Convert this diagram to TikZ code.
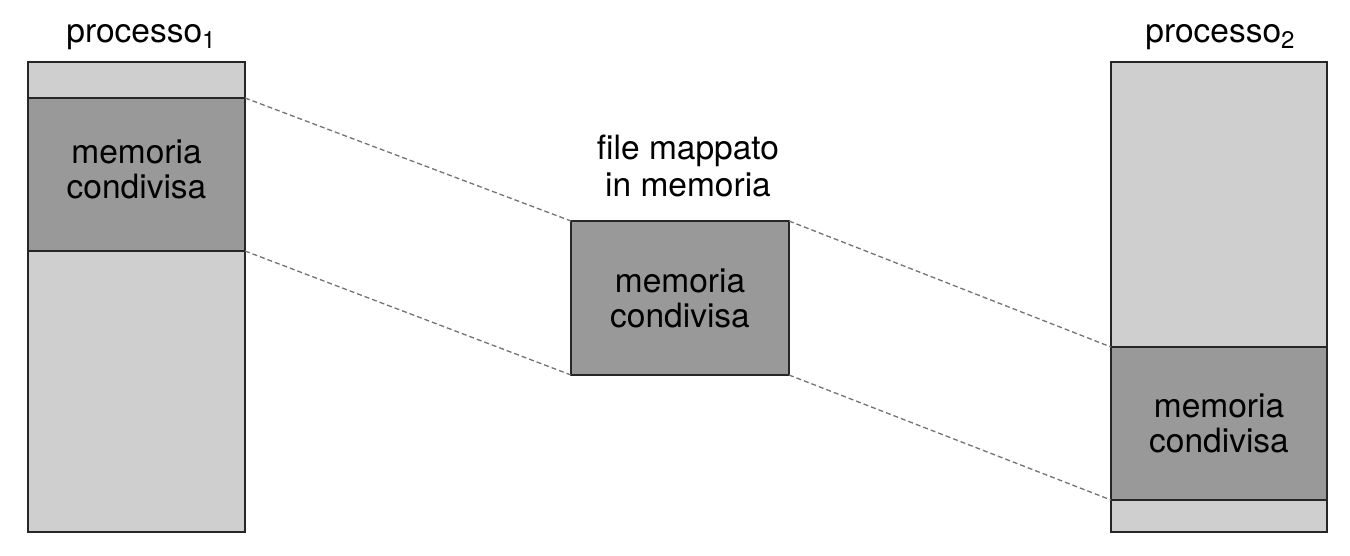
\documentclass[tikz,border=0pt]{standalone}
\usepackage{fontspec}
\setmainfont{TeX Gyre Heros}
\newcommand{\mysub}[1]{\raisebox{-6pt}{\fontsize{24}{24}\selectfont #1}}
\begin{document}
\begin{tikzpicture}[x=1pt,y=-1pt,
  light/.style={draw=black!85,fill=black!19,line width=1.6pt,anchor=north west,inner sep=0pt,outer sep=0pt},
  dark/.style={draw=black!85,fill=black!40,line width=1.6pt,anchor=north west,inner sep=0pt,outer sep=0pt,align=center,font=\fontsize{33.5}{35}\selectfont},
  lbl/.style={inner sep=0pt,align=center,font=\fontsize{33.5}{37}\selectfont},
  link/.style={draw=black!55,line width=1.3pt,dash pattern=on 5pt off 3pt}]
\useasboundingbox (0,0) rectangle (1350,556);
% left process
\node[light,minimum width=217pt,minimum height=36pt] (L1) at (28,62) {};
\node[dark,minimum width=217pt,minimum height=153pt] (L2) at (28,98) {memoria\\condivisa\rule[-10pt]{0pt}{1pt}};
\node[light,minimum width=217pt,minimum height=281pt] (L3) at (28,251) {};
% middle
\node[dark,minimum width=218pt,minimum height=154pt] (M) at (571,221) {memoria\\condivisa};
% right process
\node[light,minimum width=216pt,minimum height=285pt] (R1) at (1111,62) {};
\node[dark,minimum width=216pt,minimum height=153pt] (R2) at (1111,347) {memoria\\condivisa};
\node[light,minimum width=216pt,minimum height=32pt] (R3) at (1111,500) {};
% labels
\node[lbl,anchor=base] (P1) at (141,43) {processo\mysub{1}};
\node[lbl,anchor=base] (P2) at (1220,43) {processo\mysub{2}};
\node[lbl,anchor=south] (F) at (688,197) {file mappato\\in memoria};
% connectors
\draw[link] (L2.north east) -- (M.north west);
\draw[link] (L2.south east) -- (M.south west);
\draw[link] (M.north east) -- (R2.north west);
\draw[link] (M.south east) -- (R2.south west);
\end{tikzpicture}
\end{document}
